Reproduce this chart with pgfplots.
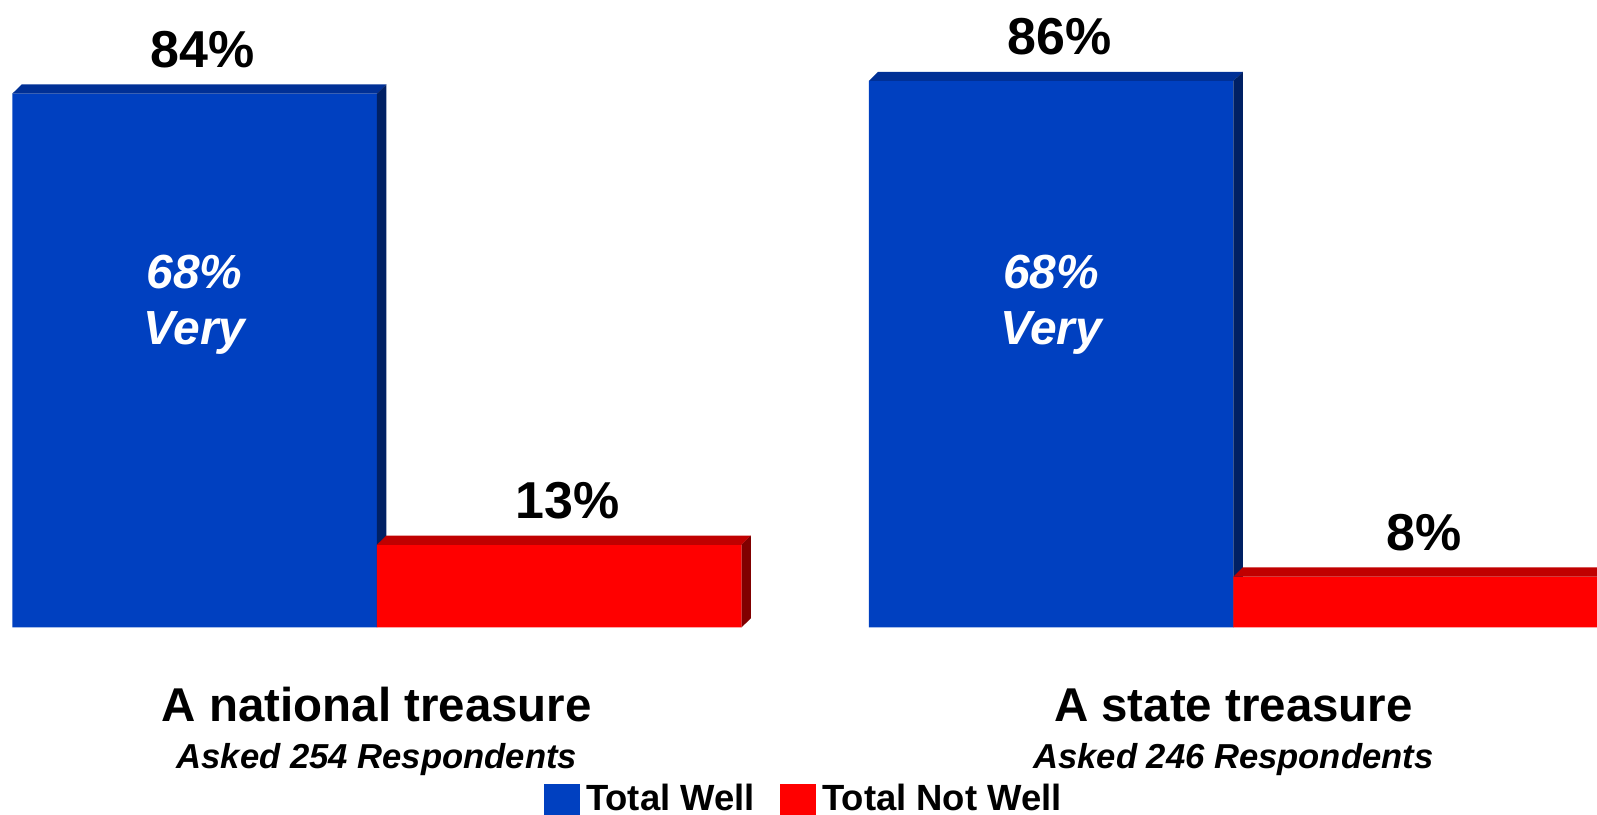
\documentclass[border=0pt]{standalone}
\usepackage{fontspec}
\setmainfont{Liberation Sans}
\usepackage{pgfplots}
\pgfplotsset{compat=1.18}
\definecolor{wellfront}{RGB}{0,64,192}
\definecolor{welltop}{RGB}{0,48,150}
\definecolor{wellside}{RGB}{0,32,100}
\definecolor{notfront}{RGB}{255,0,0}
\definecolor{nottop}{RGB}{192,0,0}
\definecolor{notside}{RGB}{128,0,0}

\begin{document}
\begin{tikzpicture}
\useasboundingbox (0,-92pt) rectangle (784pt,308pt);
\begin{axis}[
    at={(0,0)}, anchor=south west,
    scale only axis,
    width=784pt, height=308pt,
    xmin=-0.44, xmax=1.4245,
    ymin=0, ymax=98.75,
    axis line style={draw=none},
    major tick length=0pt,
    ytick=\empty,
    xtick={0,1},
    xticklabels={A national treasure, A state treasure},
    xticklabel style={anchor=base, yshift=-46pt,
        font=\fontsize{23.3}{23.3}\selectfont\bfseries},
    extra x ticks={0,1},
    extra x tick labels={Asked 254 Respondents, Asked 246 Respondents},
    extra x tick style={xticklabel style={yshift=-23.5pt,
        font=\fontsize{17}{17}\selectfont\bfseries\itshape}},
    no markers,
    legend columns=2,
    legend style={at={(rel axis cs:0.3406,-0.2419)}, anchor=north west,
        draw=none, fill=none, inner sep=0pt,
        cells={anchor=base west},
        font=\fontsize{17.9}{17.9}\selectfont\bfseries,
        /tikz/every even column/.append style={column sep=10.5pt},
        /tikz/every odd column/.append style={column sep=1pt}},
]
% front faces: Total Well
\addplot[ybar, bar width=0.4257, bar shift=-0.21285, fill=wellfront, draw=none,
    point meta=explicit symbolic, nodes near coords,
    every node near coord/.append style={anchor=base, yshift=13pt, xshift=-85.5pt,
        text=black, font=\fontsize{25.5}{25.5}\selectfont\bfseries},
    legend image code/.code={\fill[wellfront] (0pt,-4.5pt) rectangle (17.5pt,13pt);}]
    coordinates {(0,84)[84\%] (1,86)[86\%]};
\addlegendentry{Total Well}
% depth faces: Total Well
\addplot[fill=welltop, draw=none, forget plot] coordinates {(-0.4257,84) (-0.4147,85.45) (0.011,85.45) (0,84)} --cycle;
\addplot[fill=wellside, draw=none, forget plot] coordinates {(0,0) (0,84) (0.011,85.45) (0.011,1.45)} --cycle;
\addplot[fill=welltop, draw=none, forget plot] coordinates {(0.5743,86) (0.5853,87.45) (1.011,87.45) (1,86)} --cycle;
\addplot[fill=wellside, draw=none, forget plot] coordinates {(1,0) (1,86) (1.011,87.45) (1.011,1.45)} --cycle;
% front faces: Total Not Well
\addplot[ybar, bar width=0.4257, bar shift=0.21285, fill=notfront, draw=none,
    point meta=explicit symbolic, nodes near coords,
    every node near coord/.append style={anchor=base, yshift=13pt, xshift=93.5pt,
        text=black, font=\fontsize{25.5}{25.5}\selectfont\bfseries},
    legend image code/.code={\fill[notfront] (0pt,-4.5pt) rectangle (17.5pt,13pt);}]
    coordinates {(0,13)[13\%] (1,8)[8\%]};
\addlegendentry{Total Not Well}
% depth faces: Total Not Well
\addplot[fill=nottop, draw=none, forget plot] coordinates {(0,13) (0.011,14.45) (0.4367,14.45) (0.4257,13)} --cycle;
\addplot[fill=notside, draw=none, forget plot] coordinates {(0.4257,0) (0.4257,13) (0.4367,14.45) (0.4367,1.45)} --cycle;
\addplot[fill=nottop, draw=none, forget plot] coordinates {(1,8) (1.011,9.45) (1.4367,9.45) (1.4257,8)} --cycle;
\addplot[fill=notside, draw=none, forget plot] coordinates {(1.4257,0) (1.4257,8) (1.4367,9.45) (1.4367,1.45)} --cycle;
% text inside the blue bars
\node[anchor=base, text=white, font=\fontsize{23.5}{23.5}\selectfont\bfseries\itshape] at (axis cs:-0.2129,53.4) {68\%};
\node[anchor=base, text=white, font=\fontsize{23.5}{23.5}\selectfont\bfseries\itshape] at (axis cs:-0.2129,44.6) {Very};
\node[anchor=base, text=white, font=\fontsize{23.5}{23.5}\selectfont\bfseries\itshape] at (axis cs:0.7871,53.4) {68\%};
\node[anchor=base, text=white, font=\fontsize{23.5}{23.5}\selectfont\bfseries\itshape] at (axis cs:0.7871,44.6) {Very};
\end{axis}
\end{tikzpicture}
\end{document}
